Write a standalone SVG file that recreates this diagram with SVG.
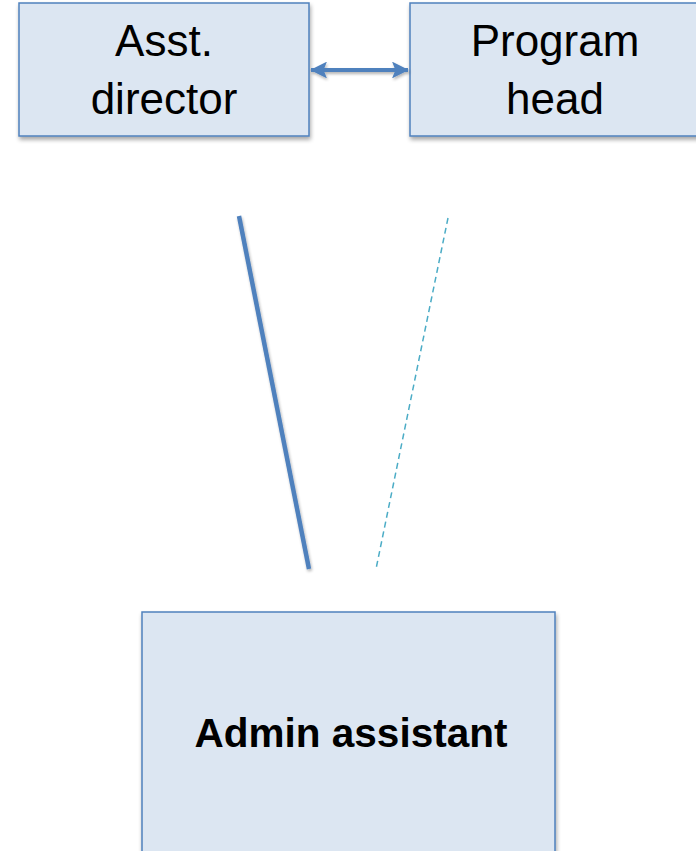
<svg xmlns="http://www.w3.org/2000/svg" width="696" height="851" viewBox="0 0 696 851">
<style>
.box{fill:#DCE6F2;stroke:#4F81BD;stroke-width:1.5;filter:url(#sh)}
.t{font-family:"Liberation Sans",Arial,sans-serif;font-size:44px;fill:#000;text-anchor:middle}
.b{font-family:"Liberation Sans",Arial,sans-serif;font-size:40.5px;font-weight:bold;fill:#000;text-anchor:middle}
</style>
<defs>
<filter id="sh" x="-10%" y="-10%" width="120%" height="130%">
<feGaussianBlur in="SourceAlpha" stdDeviation="2"/>
<feOffset dx="1" dy="3" result="o"/>
<feComponentTransfer><feFuncA type="linear" slope="0.35"/></feComponentTransfer>
<feMerge><feMergeNode/><feMergeNode in="SourceGraphic"/></feMerge>
</filter>
<filter id="lsh" filterUnits="userSpaceOnUse" x="0" y="0" width="696" height="851">
<feGaussianBlur in="SourceAlpha" stdDeviation="1.5"/>
<feOffset dx="1" dy="2"/>
<feComponentTransfer><feFuncA type="linear" slope="0.3"/></feComponentTransfer>
<feMerge><feMergeNode/><feMergeNode in="SourceGraphic"/></feMerge>
</filter>
<marker id="ah" viewBox="0 0 10 10" refX="9.5" refY="5" markerWidth="4.2" markerHeight="4.2" orient="auto-start-reverse" markerUnits="strokeWidth">
<path d="M0,0 L10,5 L0,10 L2,5 Z" fill="#4F81BD"/>
</marker>
</defs>
<rect width="696" height="851" fill="#fff"/>
<g id="asst-director">
<rect class="box" x="19" y="3" width="290" height="133"/>
<text class="t" x="164" y="56">Asst.</text>
<text class="t" x="164" y="114">director</text>
</g>
<g id="program-head">
<rect class="box" x="410" y="3" width="300" height="133"/>
<text class="t" x="555" y="56">Program</text>
<text class="t" x="555" y="114">head</text>
</g>
<g id="admin-assistant">
<rect class="box" x="142" y="612" width="413" height="250"/>
<text class="b" x="351" y="747">Admin assistant</text>
</g>
<g id="connectors">
<line x1="311" y1="70" x2="408" y2="70" stroke="#4F81BD" stroke-width="4" marker-start="url(#ah)" marker-end="url(#ah)" filter="url(#lsh)"/>
<line x1="239" y1="216" x2="309" y2="569" stroke="#4F81BD" stroke-width="4.5" filter="url(#lsh)"/>
<line x1="448" y1="218" x2="376" y2="569" stroke="#4BACC6" stroke-width="1.5" stroke-dasharray="6,4"/>
</g>
</svg>
